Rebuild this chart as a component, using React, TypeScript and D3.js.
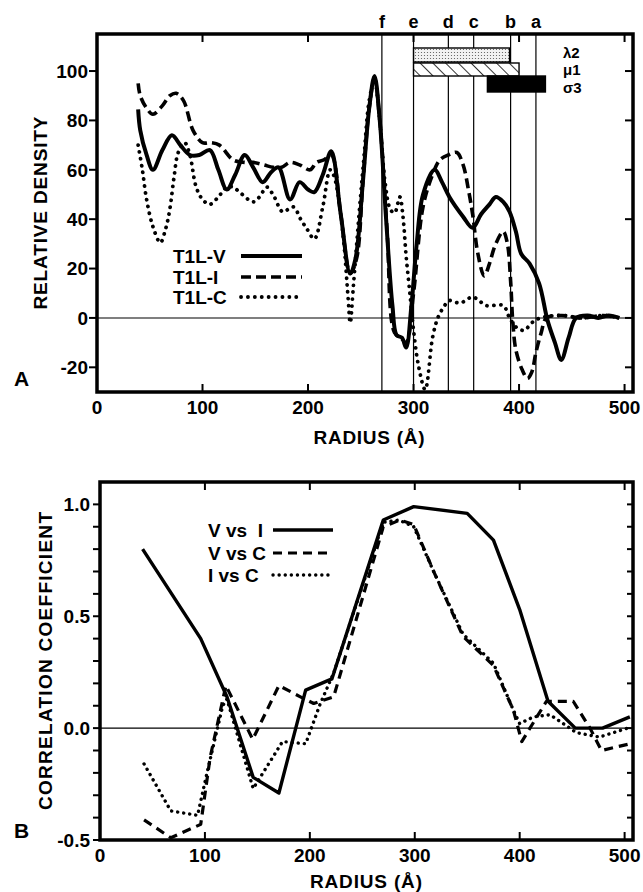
import React from 'react';
import * as d3 from 'd3';

type Pt = [number, number];

// ---------- Panel A data (radius Å, relative density) ----------
const radiusTicks = [0, 100, 200, 300, 400, 500];
const densityTicks = [-20, 0, 20, 40, 60, 80, 100];

const t1lV: Pt[] = [
  [39, 84.5], [41, 76], [47, 66], [53, 60], [62, 68], [71, 74], [79, 70], [88, 66], [97, 66],
  [107, 68], [115, 60], [123, 52], [131, 58], [140, 66], [148, 61], [157, 55], [165, 59],
  [172, 61], [183, 48], [192, 55], [200, 52], [206, 51], [214, 58], [222, 67.5], [231, 42],
  [240, 18], [245, 24], [252, 55], [258, 85], [263, 98], [268, 80], [274, 40], [280, 5],
  [284, -7], [289, -8], [293, -12], [298, 5], [303, 30], [309, 50], [320, 60], [327, 55],
  [334, 49], [347, 41], [356, 36.5], [364, 42], [372, 46], [378, 49], [385, 47], [391, 43],
  [397, 35], [402, 26], [410, 22], [419, 14], [427, -1], [434, -10], [440, -17], [447, -8],
  [454, 0], [465, 1], [475, 0], [485, 1], [495, 0],
];

const t1lI: Pt[] = [
  [39, 95], [41, 90], [47, 85], [53, 82.5], [62, 86], [69, 90], [75, 91], [82, 88], [91, 76],
  [100, 71], [108, 71], [116, 70], [129, 64], [140, 63], [148, 63], [158, 62], [167, 61],
  [175, 61], [183, 63], [192, 62], [202, 60], [208, 63], [215, 64], [222, 66], [231, 42],
  [240, 18], [246, 24], [252, 55], [258, 85], [263, 97], [268, 80], [275, 35], [282, -6],
  [288, -8], [293, -10], [300, 10], [309, 45], [318, 58], [325, 64], [333, 66], [341, 67],
  [347, 62], [352, 52], [356, 42], [361, 26], [367, 17], [372, 22], [377, 29], [385, 35],
  [389, 30], [392, 15], [394, -1], [397, -13], [403, -21], [408, -24.5], [412, -22],
  [416, -14], [421, -6], [426, 0], [440, 1], [460, 0], [480, 1], [495, 0],
];

const t1lC: Pt[] = [
  [39, 70], [43, 60], [47, 48], [53, 37], [60, 30.5], [65, 36], [69, 44], [73, 57], [77, 67],
  [83, 71], [88, 66], [94, 53], [100, 48], [107, 46], [115, 49], [123, 53], [129, 53],
  [135, 51], [148, 47], [154, 49], [161, 53], [168, 49], [176, 43], [186, 45], [193, 40],
  [199, 36], [206, 32], [214, 45], [221, 60], [225, 57], [233, 34.5], [238, 8], [240, -2],
  [243, 13], [248, 40], [253, 65], [258, 88], [263, 96], [268, 80], [273, 55], [278, 44],
  [282, 42.5], [287, 49], [290, 41], [293, 25], [297, 8], [300, -5], [305, -20], [311, -29],
  [318, -8], [323, 0], [328, 4], [334, 7], [344, 6], [356, 8.5], [362, 7], [369, 5],
  [385, 5], [391, 0], [398, -4], [405, -5], [412, -2], [420, 0], [440, 1], [460, 0],
  [480, 1], [495, 0],
];

const markerLines = [
  { label: 'f', r: 270 },
  { label: 'e', r: 300 },
  { label: 'd', r: 333 },
  { label: 'c', r: 357 },
  { label: 'b', r: 392 },
  { label: 'a', r: 416 },
];

const bandLabels = ['λ2', 'μ1', 'σ3'];
const bandStart = [300, 300, 370];
const bandEnd = [391, 400, 425];

// ---------- Panel B data (radius Å, correlation coefficient) ----------
const corrTickLabels = [-0.5, 0.0, 0.5, 1.0];

const vVsI: Pt[] = [
  [40.6, 0.8], [96, 0.4], [121, 0.14], [146, -0.22], [170.5, -0.29], [196, 0.17],
  [221, 0.22], [270, 0.93], [299, 0.99], [350, 0.96], [375, 0.84], [400, 0.53],
  [427, 0.12], [453, 0.0], [479, 0.0], [505, 0.05],
];

const vVsC: Pt[] = [
  [42, -0.41], [67.5, -0.49], [96, -0.43], [105, -0.13], [120, 0.19], [145.6, -0.05],
  [170.5, 0.19], [191, 0.14], [203.7, 0.11], [222.7, 0.14], [270, 0.9], [286, 0.93],
  [299, 0.91], [318, 0.7], [346, 0.41], [375, 0.28], [394, 0.08], [402, -0.06],
  [425.5, 0.12], [451, 0.12], [467, 0.0], [478, -0.1], [505, -0.07],
];

const iVsC: Pt[] = [
  [42, -0.16], [67.5, -0.37], [93, -0.39], [102, -0.2], [117, 0.1], [121, 0.13],
  [146, -0.27], [174, -0.06], [196, -0.07], [210, 0.11], [223, 0.25], [270, 0.92],
  [285, 0.93], [299, 0.9], [318, 0.7], [346, 0.42], [375, 0.29], [394, 0.08],
  [400, 0.02], [413, 0.05], [429, 0.06], [454, -0.02], [476, -0.04], [503, 0.0],
];

// ---------- styles ----------
const FONT = '"Liberation Sans", Arial, Helvetica, sans-serif';
const SOLID = { strokeWidth: 4 };
const DASH = { strokeWidth: 3.6, strokeDasharray: '10 5' };
const DOT = { strokeWidth: 3.8, strokeDasharray: '0.1 6.8', strokeLinecap: 'round' as const };

export default function App() {
  // Panel A geometry
  const aL = 97, aR = 633, aT = 34, aB = 392;
  const xA = d3.scaleLinear().domain([0, 508]).range([aL, aR]);
  const yA = d3.scaleLinear().domain([-30, 115]).range([aB, aT]);
  const lineA = d3.line<Pt>().x(d => xA(d[0])).y(d => yA(d[1])).curve(d3.curveCatmullRom.alpha(0.5));

  // Panel B geometry
  const bL = 100, bR = 633, bT = 482, bB = 840;
  const xB = d3.scaleLinear().domain([0, 508]).range([bL, bR]);
  const yB = d3.scaleLinear().domain([-0.5, 1.1]).range([bB, bT]);
  const lineB = d3.line<Pt>().x(d => xB(d[0])).y(d => yB(d[1])).curve(d3.curveLinear);
  const corrMinor = d3.range(-5, 11).map(i => i / 10);

  const bandTop = 48;
  const bandH = [14, 13, 16];
  const bandY = [bandTop, bandTop + 15, bandTop + 28];
  const bandFill = ['url(#stipple)', 'url(#hatch)', '#000'];
  const bandLabelY = [52.5, 70, 87.5];

  const txt = { fontFamily: FONT, fontWeight: 700, fill: '#000' };

  return (
    <svg width={643} height={892} style={{ position: 'absolute', left: 0, top: 0, background: '#fff' }}>
      <defs>
        <clipPath id="clipA"><rect x={aL} y={aT} width={aR - aL} height={aB - aT} /></clipPath>
        <clipPath id="clipB"><rect x={bL} y={bT} width={bR - bL} height={bB - bT} /></clipPath>
        <pattern id="stipple" width={3} height={3} patternUnits="userSpaceOnUse">
          <rect width={3} height={3} fill="#f2f2f2" />
          <circle cx={1.5} cy={1.5} r={0.6} fill="#555" />
        </pattern>
        <pattern id="hatch" width={9} height={9} patternUnits="userSpaceOnUse" patternTransform="rotate(-45)">
          <rect width={9} height={9} fill="#fff" />
          <line x1={0} y1={0} x2={0} y2={9} stroke="#000" strokeWidth={1.6} />
        </pattern>
      </defs>

      {/* ================= Panel A ================= */}
      {markerLines.map(m => (
        <g key={m.label}>
          <line x1={xA(m.r)} x2={xA(m.r)} y1={aT} y2={aB} stroke="#000" strokeWidth={1.2} />
          <text x={xA(m.r)} y={28} textAnchor="middle" fontSize={18} {...txt}>{m.label}</text>
        </g>
      ))}
      <line x1={aL} x2={aR} y1={yA(0)} y2={yA(0)} stroke="#000" strokeWidth={1.1} />

      {bandLabels.map((b, i) => (
        <g key={b}>
          <rect x={xA(bandStart[i])} y={bandY[i]} width={xA(bandEnd[i]) - xA(bandStart[i])} height={bandH[i]}
            fill={bandFill[i]} stroke="#000" strokeWidth={1.4} />
          <text x={563} y={bandLabelY[i]} dy="0.35em" fontSize={15} {...txt}>{b}</text>
        </g>
      ))}

      <g clipPath="url(#clipA)" fill="none" stroke="#000" strokeLinejoin="round">
        <path d={lineA(t1lC) || ''} {...DOT} />
        <path d={lineA(t1lI) || ''} {...DASH} />
        <path d={lineA(t1lV) || ''} {...SOLID} />
      </g>

      <rect x={aL} y={aT} width={aR - aL} height={aB - aT} fill="none" stroke="#000" strokeWidth={3.5} />
      {densityTicks.map(t => (
        <g key={t}>
          <line x1={aL - 8} x2={aL} y1={yA(t)} y2={yA(t)} stroke="#000" strokeWidth={2} />
          <line x1={aR - 8} x2={aR} y1={yA(t)} y2={yA(t)} stroke="#000" strokeWidth={2} />
          <text x={88} y={yA(t)} dy="0.36em" textAnchor="end" fontSize={19} {...txt}>{t}</text>
        </g>
      ))}
      {radiusTicks.map(t => (
        <g key={t}>
          {t > 0 && <line x1={xA(t)} x2={xA(t)} y1={aT} y2={aT + 8} stroke="#000" strokeWidth={2} />}
          {t > 0 && <line x1={xA(t)} x2={xA(t)} y1={aB} y2={aB - 8} stroke="#000" strokeWidth={2} />}
          <text x={xA(t)} y={407} dy="0.36em" textAnchor="middle" fontSize={19} {...txt}>{t}</text>
        </g>
      ))}
      <text x={369} y={437} dy="0.36em" textAnchor="middle" fontSize={19} textLength={111} lengthAdjust="spacing" {...txt}>RADIUS (Å)</text>
      <text transform="translate(40,213) rotate(-90)" dy="0.36em" textAnchor="middle" fontSize={19}
        textLength={193} lengthAdjust="spacing" {...txt}>RELATIVE  DENSITY</text>
      <text x={14} y={378} dy="0.36em" fontSize={21} {...txt}>A</text>

      {[
        { name: 'T1L-V', style: SOLID, y: 256 },
        { name: 'T1L-I', style: DASH, y: 277 },
        { name: 'T1L-C', style: DOT, y: 297 },
      ].map(l => (
        <g key={l.name}>
          <text x={173} y={l.y} dy="0.36em" fontSize={19} {...txt}>{l.name}</text>
          <line x1={241} x2={302} y1={l.y} y2={l.y} stroke="#000" {...l.style} />
        </g>
      ))}

      {/* ================= Panel B ================= */}
      <line x1={bL} x2={bR} y1={yB(0)} y2={yB(0)} stroke="#000" strokeWidth={1.1} />
      <g clipPath="url(#clipB)" fill="none" stroke="#000" strokeLinejoin="round">
        <path d={lineB(iVsC) || ''} {...DOT} strokeWidth={3.4} strokeDasharray="0.1 6" />
        <path d={lineB(vVsC) || ''} {...DASH} strokeWidth={3.2} strokeDasharray="9 6" />
        <path d={lineB(vVsI) || ''} strokeWidth={3.4} />
      </g>
      <rect x={bL} y={bT} width={bR - bL} height={bB - bT} fill="none" stroke="#000" strokeWidth={3.5} />
      {corrMinor.map(t => (
        <g key={t}>
          <line x1={bL - 7} x2={bL} y1={yB(t)} y2={yB(t)} stroke="#000" strokeWidth={2} />
          <line x1={bR - 6} x2={bR} y1={yB(t)} y2={yB(t)} stroke="#000" strokeWidth={2} />
        </g>
      ))}
      {corrTickLabels.map(t => (
        <text key={t} x={90} y={yB(t)} dy="0.36em" textAnchor="end" fontSize={19} {...txt}>{t.toFixed(1)}</text>
      ))}
      {radiusTicks.map(t => (
        <g key={t}>
          {t > 0 && <line x1={xB(t)} x2={xB(t)} y1={bT} y2={bT + 8} stroke="#000" strokeWidth={2} />}
          {t > 0 && <line x1={xB(t)} x2={xB(t)} y1={bB} y2={bB - 8} stroke="#000" strokeWidth={2} />}
          <text x={xB(t)} y={855} dy="0.36em" textAnchor="middle" fontSize={19} {...txt}>{t}</text>
        </g>
      ))}
      <text x={366} y={881} dy="0.36em" textAnchor="middle" fontSize={19} textLength={112} lengthAdjust="spacing" {...txt}>RADIUS (Å)</text>
      <text transform="translate(45,661) rotate(-90)" dy="0.36em" textAnchor="middle" fontSize={19}
        textLength={298} lengthAdjust="spacing" {...txt}>CORRELATION  COEFFICIENT</text>
      <text x={14} y={830} dy="0.36em" fontSize={21} {...txt}>B</text>

      {[
        { name: 'V vs  I', style: { strokeWidth: 3.4 }, y: 530 },
        { name: 'V vs C', style: { strokeWidth: 3.2, strokeDasharray: '9 6' }, y: 553 },
        { name: 'I vs C', style: { strokeWidth: 3.4, strokeDasharray: '0.1 6', strokeLinecap: 'round' as const }, y: 575 },
      ].map(l => (
        <g key={l.name}>
          <text x={208} y={l.y} dy="0.36em" fontSize={19} style={{ whiteSpace: 'pre' }} {...txt}>{l.name}</text>
          <line x1={273} x2={333} y1={l.y} y2={l.y} stroke="#000" {...l.style} />
        </g>
      ))}
    </svg>
  );
}
